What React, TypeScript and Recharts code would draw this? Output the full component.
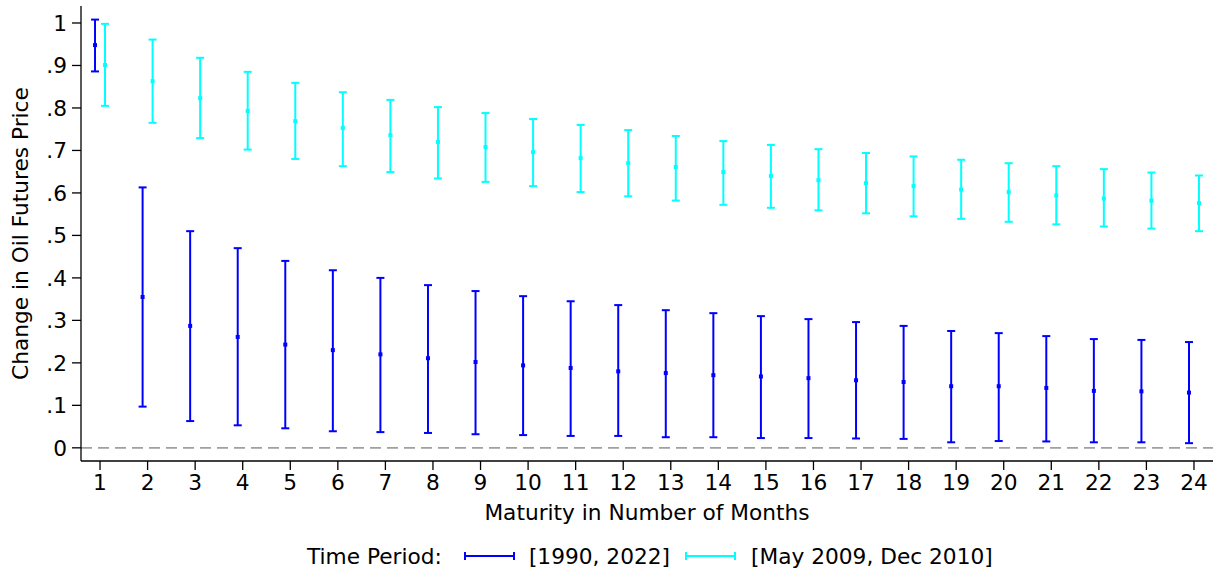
import React from 'react'
import { ComposedChart, Scatter, ErrorBar, XAxis, YAxis, ReferenceLine } from 'recharts'

const MONTHS = [1, 2, 3, 4, 5, 6, 7, 8, 9, 10, 11, 12, 13, 14, 15, 16, 17, 18, 19, 20, 21, 22, 23, 24]

// full sample 1990-2022
const FULL_EST = [0.948, 0.355, 0.287, 0.261, 0.243, 0.230, 0.220, 0.211, 0.202, 0.194, 0.188, 0.180, 0.176, 0.171, 0.168, 0.164, 0.159, 0.155, 0.145, 0.145, 0.141, 0.134, 0.133, 0.130]
const FULL_LO = [0.886, 0.097, 0.063, 0.053, 0.046, 0.039, 0.037, 0.035, 0.032, 0.030, 0.028, 0.028, 0.025, 0.025, 0.023, 0.023, 0.022, 0.021, 0.013, 0.016, 0.015, 0.013, 0.013, 0.011]
const FULL_HI = [1.008, 0.613, 0.510, 0.470, 0.440, 0.418, 0.400, 0.383, 0.369, 0.357, 0.345, 0.336, 0.324, 0.317, 0.310, 0.303, 0.296, 0.287, 0.275, 0.270, 0.263, 0.256, 0.254, 0.249]

// sub sample May 2009 - Dec 2010
const SUB_EST = [0.901, 0.863, 0.823, 0.793, 0.769, 0.753, 0.736, 0.720, 0.708, 0.696, 0.682, 0.670, 0.661, 0.649, 0.640, 0.630, 0.623, 0.616, 0.608, 0.602, 0.594, 0.587, 0.582, 0.576]
const SUB_LO = [0.805, 0.765, 0.729, 0.702, 0.680, 0.663, 0.649, 0.634, 0.626, 0.616, 0.602, 0.592, 0.582, 0.572, 0.565, 0.559, 0.552, 0.545, 0.539, 0.532, 0.526, 0.521, 0.516, 0.510]
const SUB_HI = [0.998, 0.961, 0.918, 0.885, 0.859, 0.837, 0.819, 0.802, 0.788, 0.774, 0.760, 0.748, 0.734, 0.722, 0.713, 0.703, 0.694, 0.686, 0.678, 0.670, 0.663, 0.656, 0.648, 0.641]

const Y_TICKS = [0, 0.1, 0.2, 0.3, 0.4, 0.5, 0.6, 0.7, 0.8, 0.9, 1]

const BLUE = '#0000ff'
const CYAN = '#00ffff'
const FONT = '"DejaVu Sans", sans-serif'
const FS = 21.7

const buildRows = (est: number[], lo: number[], hi: number[]) =>
  MONTHS.map((m, i) => ({ m, v: est[i], err: [est[i] - lo[i], hi[i] - est[i]] }))

const fullRows = buildRows(FULL_EST, FULL_LO, FULL_HI)
const subRows = buildRows(SUB_EST, SUB_LO, SUB_HI)

// small offset (in months) so the two periods sit side by side
const SHIFT = 0.105
const X_DOMAIN: [number, number] = [0.6, 24.4]

const fmtY = (v: number) => (v === 0 ? '0' : v === 1 ? '1' : '.' + Math.round(v * 10))

const Dot = (color: string) => (props: any) => {
  const { cx, cy } = props
  if (cx == null || cy == null) return null
  return <rect x={cx - 2} y={cy - 2} width={4} height={4} fill={color} />
}

const errKey = (d: any) => (d?.payload ?? d).err

const LegendKey = ({ color }: { color: string }) => (
  <svg width={51} height={12} style={{ display: 'inline-block', verticalAlign: 'middle' }}>
    <line x1={1} y1={6} x2={50} y2={6} stroke={color} strokeWidth={2} />
    <line x1={1} y1={2} x2={1} y2={10} stroke={color} strokeWidth={2} />
    <line x1={50} y1={2} x2={50} y2={10} stroke={color} strokeWidth={2} />
  </svg>
)

export default function App() {
  return (
    <div style={{ position: 'absolute', left: 0, top: 0, width: 1224, height: 573, background: '#fff', fontFamily: FONT }}>
      <ComposedChart width={1224} height={573} margin={{ top: 6, right: 11, left: 0, bottom: 46 }}>
        <XAxis xAxisId="full" type="number" dataKey="m" domain={[X_DOMAIN[0] + SHIFT, X_DOMAIN[1] + SHIFT]} allowDataOverflow hide height={0} />
        <XAxis xAxisId="sub" type="number" dataKey="m" domain={[X_DOMAIN[0] - SHIFT, X_DOMAIN[1] - SHIFT]} allowDataOverflow hide height={0} />
        <XAxis
          xAxisId="main"
          type="number"
          dataKey="m"
          domain={X_DOMAIN}
          ticks={MONTHS}
          allowDataOverflow
          height={66}
          stroke="#000"
          strokeWidth={1.3}
          tickSize={9}
          tickMargin={5}
          tick={{ fill: '#000', fontSize: FS, fontFamily: FONT }}
          tickLine={{ stroke: '#000', strokeWidth: 1.3 }}
          label={(p: any) => {
            const vb = p.viewBox
            return (
              <text x={vb.x + vb.width / 2} y={vb.y + 51} textAnchor="middle" dominantBaseline="central" fontSize={FS} fontFamily={FONT} fill="#000">
                Maturity in Number of Months
              </text>
            )
          }}
        />
        <YAxis
          type="number"
          dataKey="v"
          domain={[-0.031, 1.04]}
          ticks={Y_TICKS}
          allowDataOverflow
          width={81}
          stroke="#000"
          strokeWidth={1.3}
          tickSize={9}
          tickMargin={5}
          tickFormatter={fmtY}
          tick={{ fill: '#000', fontSize: FS, fontFamily: FONT }}
          tickLine={{ stroke: '#000', strokeWidth: 1.3 }}
          label={(p: any) => {
            const vb = p.viewBox
            const cy = vb.y + vb.height / 2
            return (
              <text x={20} y={cy} transform={`rotate(-90, 20, ${cy})`} textAnchor="middle" dominantBaseline="central" fontSize={FS} fontFamily={FONT} fill="#000">
                Change in Oil Futures Price
              </text>
            )
          }}
        />
        <ReferenceLine xAxisId="main" y={0} stroke="#a0a0a0" strokeWidth={1.6} strokeDasharray="11 6" />
        <Scatter xAxisId="full" data={fullRows} dataKey="v" fill={BLUE} shape={Dot(BLUE)} isAnimationActive={false}>
          <ErrorBar dataKey={errKey} direction="y" width={4} stroke={BLUE} strokeWidth={2} isAnimationActive={false} />
        </Scatter>
        <Scatter xAxisId="sub" data={subRows} dataKey="v" fill={CYAN} shape={Dot(CYAN)} isAnimationActive={false}>
          <ErrorBar dataKey={errKey} direction="y" width={4} stroke={CYAN} strokeWidth={2} isAnimationActive={false} />
        </Scatter>
      </ComposedChart>
      <div style={{ position: 'absolute', left: 307, top: 542, height: 28, display: 'flex', alignItems: 'center', fontSize: FS, color: '#000', whiteSpace: 'nowrap' }}>
        <span style={{ marginRight: 22 }}>Time Period:</span>
        <LegendKey color={BLUE} />
        <span style={{ marginLeft: 14, marginRight: 15 }}>[1990, 2022]</span>
        <LegendKey color={CYAN} />
        <span style={{ marginLeft: 15 }}>[May 2009, Dec 2010]</span>
      </div>
    </div>
  )
}
